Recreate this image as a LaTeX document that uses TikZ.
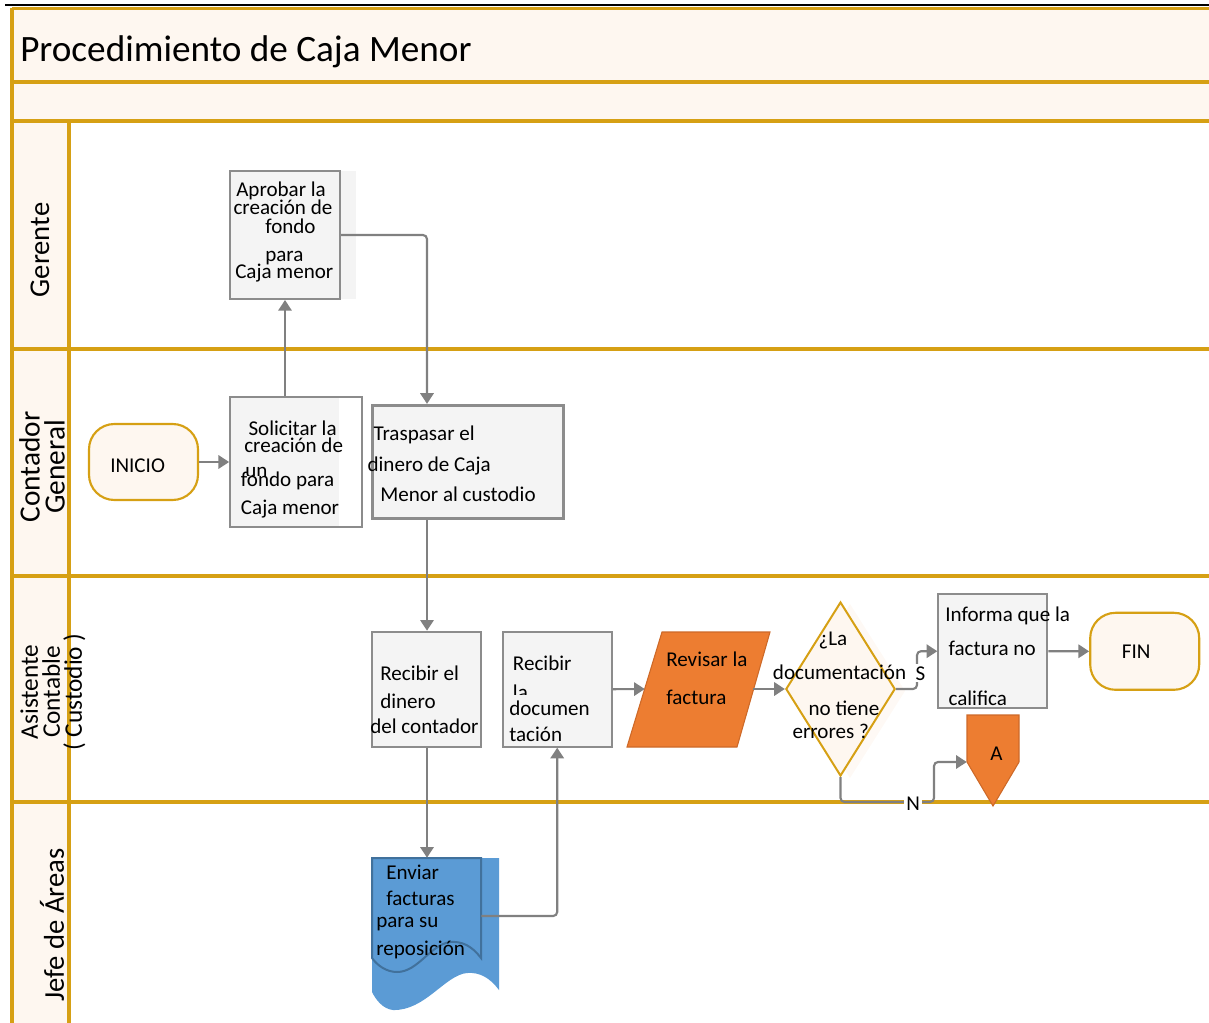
\documentclass[tikz,border=0pt]{standalone}
\usepackage{fontspec}
\setmainfont{Carlito}
\usetikzlibrary{arrows.meta,shapes.geometric}
\definecolor{lanegold}{RGB}{214,160,20}
\definecolor{cream}{RGB}{254,247,240}
\definecolor{boxgray}{RGB}{244,244,244}
\definecolor{boxline}{RGB}{140,140,140}
\definecolor{flowgray}{RGB}{128,128,128}
\definecolor{procorange}{RGB}{237,125,49}
\definecolor{orangeline}{RGB}{205,105,40}
\definecolor{docblue}{RGB}{91,155,213}
\definecolor{docline}{RGB}{65,113,156}
\begin{document}
\begin{tikzpicture}[x=0.75pt,y=-0.75pt,
  laneline/.style={draw=lanegold,line width=2.3pt},
  procbox/.style={draw=boxline,fill=boxgray,line width=1.5pt,inner sep=0pt},
  terminal/.style={draw=lanegold,fill=cream,line width=1.6pt,inner sep=0pt,rounded corners=19pt},
  anchorbox/.style={inner sep=0pt},
  flow/.style={draw=flowgray,line width=1.6pt,rounded corners=3pt,-{Triangle[length=8pt,width=10pt]}},
  txt/.style={inner sep=0pt,anchor=base west,font=\fontsize{15.8}{19}\selectfont},
  lanelab/.style={inner sep=0pt,rotate=90,align=center},
  tag/.style={txt,fill=white,inner sep=1.5pt}
]
\useasboundingbox (0,0) rectangle (1209,1023);

% ---------- pool background ----------
\fill[cream] (12,8.5) rectangle (1209,121);
\fill[cream] (12,121) rectangle (69,1023);

\draw[laneline] (12,8.5) -- (1209,8.5);
\draw[laneline] (12,82) -- (1209,82);
\draw[laneline] (12,121) -- (1209,121);
\draw[laneline] (12,349) -- (1209,349);
\draw[laneline] (12,576) -- (1209,576);
\draw[laneline] (12,802) -- (1209,802);
\draw[laneline] (12,8.5) -- (12,1023);
\draw[laneline] (69,121) -- (69,1023);
\draw[black,line width=1.2pt] (5,5) -- (1209,5);

\node[inner sep=0pt,anchor=base west,font=\fontsize{27.9}{33}\selectfont] (title) at (20,61.7) {Procedimiento de Caja Menor};

% ---------- lane names ----------
\node[lanelab,font=\fontsize{21.5}{24}\selectfont] (lgerente) at (40,250) {Gerente};
\node[lanelab,font=\fontsize{22}{18.8}\selectfont] (lcontador) at (42,467) {Contador\\General};
\node[lanelab,font=\fontsize{19}{16.5}\selectfont] (lasist) at (53,692) {Asistente\\Contable\\( Custodio )};
\node[lanelab,font=\fontsize{21.5}{24}\selectfont] (ljefe) at (52,925) {Jefe de Áreas};

% ---------- Gerente ----------
\fill[boxgray] (230,171) rectangle (356,299);
\node[procbox,minimum width=82.5pt,minimum height=96pt] (aprob) at (285,235) {};
\node[txt] (a1) at (236,196.7) {Aprobar la};
\node[txt] (a2) at (233.3,215) {creación de};
\node[txt] (a3) at (265,234) {fondo};
\node[txt] (a4) at (265,261.7) {para};
\node[txt] (a5) at (235,279) {Caja menor};

% ---------- Contador General ----------
\node[terminal,minimum width=81.75pt,minimum height=57pt] (inicio) at (143.5,462) {};
\node[txt] (i1) at (110,472.7) {INICIO};

\fill[boxgray] (230,397) rectangle (339,527);
\node[draw=boxline,line width=1.5pt,inner sep=0pt,minimum width=98.8pt,minimum height=97.5pt] (solic) at (296,462) {};
\node[txt] (s1) at (248.3,435) {Solicitar la};
\node[txt] (s2) at (244,452.3) {creación de};
\begin{scope}
  \clip (232,440) rectangle (338,475.5);
  \node[txt] (s3) at (245,477) {un};
\end{scope}
\node[txt] (s4) at (240.7,486.7) {fondo para};
\node[txt] (s5) at (240.7,514) {Caja menor};

\node[procbox,line width=2.2pt,minimum width=143.25pt,minimum height=85pt] (trasp) at (468,462) {};
\node[txt] (p1) at (373.3,440) {Traspasar el};
\node[txt] (p2) at (367.3,471.7) {dinero de Caja};
\node[txt] (p3) at (380,501) {Menor al custodio};

% ---------- Asistente Contable ----------
\node[procbox,minimum width=81.75pt,minimum height=86.25pt] (dinero) at (426.5,689.2) {};
\node[txt] (d1) at (380,680) {Recibir el};
\node[txt] (d2) at (380,708.3) {dinero};
\node[txt] (d3) at (370,733.3) {del contador};

\node[procbox,minimum width=81.75pt,minimum height=86.25pt] (recdoc) at (557.2,689.2) {};
\node[txt] (r1) at (512.7,670) {Recibir};
\begin{scope}
  \clip (505,640) rectangle (610,694.3);
  \node[txt] (r2) at (512.7,699) {la};
\end{scope}
\node[txt] (r3) at (509,715.7) {documen};
\node[txt] (r4) at (509,741.7) {tación};

\fill[procorange,draw=orangeline,line width=0.8pt] (662,632) -- (770,632) -- (737,747) -- (627,747) -- cycle;
\node[anchorbox,minimum width=81pt,minimum height=86.25pt] (rev) at (699,689) {};
\node[txt] (v1) at (666,666.7) {Revisar la};
\node[txt] (v2) at (666,704.3) {factura};

\fill[cream!70!white] (850,604) -- (905,691) -- (850,778) -- (795,691) -- cycle;
\node[diamond,draw=lanegold,fill=cream,line width=1.5pt,inner sep=0pt,minimum width=82pt,minimum height=130.5pt] (dec) at (840.5,689) {};
\node[txt] (q1) at (818.3,645) {¿La};
\node[txt] (q2) at (772.7,679.3) {documentación};
\node[txt] (q3) at (808.3,715) {no tiene};
\node[txt] (q4) at (792.3,738.3) {errores ?};

\node[procbox,minimum width=81.75pt,minimum height=85.7pt] (inf) at (992.8,651.2) {};
\node[txt] (f1) at (945,621.7) {Informa que la};
\node[txt] (f2) at (948.3,655) {factura no};
\node[txt] (f3) at (948.3,705) {califica};

\node[terminal,minimum width=81.75pt,minimum height=57.75pt] (fin) at (1144.7,651.3) {};
\node[txt] (n1) at (1121.7,658.3) {FIN};

\fill[procorange,draw=orangeline,line width=0.8pt] (967,715) -- (1019,715) -- (1019,762) -- (993,806) -- (967,762) -- cycle;
\node[anchorbox,minimum width=39pt,minimum height=70.5pt] (conA) at (993,762) {};
\node[txt] (c1) at (990,760.7) {A};

% ---------- Jefe de Areas ----------
\fill[docblue] (372,858) -- (499,858) -- (499,990)
  .. controls (490,978) and (480,972) .. (467,973)
  .. controls (445,975) and (425,1011) .. (393,1010)
  .. controls (383,1009) and (376,1000) .. (372,992) -- cycle;
\draw[docline,line width=1.5pt] (372,858) -- (481,858) -- (481,958)
  .. controls (472,946) and (462,941) .. (450,942)
  .. controls (430,945) and (418,972) .. (397,972)
  .. controls (386,972) and (377,965) .. (372,958) -- cycle;
\node[anchorbox,minimum width=82pt,minimum height=87pt] (env) at (426.5,916) {};
\node[txt] (e1) at (386,879.3) {Enviar};
\node[txt] (e2) at (386,905) {facturas};
\node[txt] (e3) at (376,927.3) {para su};
\node[txt] (e4) at (376,955) {reposición};

% ---------- connectors ----------
\coordinate (spine) at (427,0);
\draw[flow] (inicio.east) -- (solic.west);
\draw[flow] (aprob.south |- solic.north) -- (aprob.south);
\draw[flow] (aprob.east) -| (spine |- trasp.north);
\draw[flow] (spine |- trasp.south) -- (spine |- dinero.north);
\draw[flow] (spine |- dinero.south) -- (spine |- env.north);
\draw[flow] (env.east) -| (recdoc.south);
\draw[flow] (recdoc.east) -- (rev.west);
\draw[flow] (rev.east) -- (dec.west);
\draw[flow] (dec.east) -- (917,689) |- (inf.west);
\draw[flow] (inf.east) -- (fin.west);
\draw[flow] (dec.south) |- (934,802) |- (conA.west);

\node[tag] (lblS) at (913.3,680) {S};
\node[tag] (lblN) at (904,810) {N};
\end{tikzpicture}
\end{document}
